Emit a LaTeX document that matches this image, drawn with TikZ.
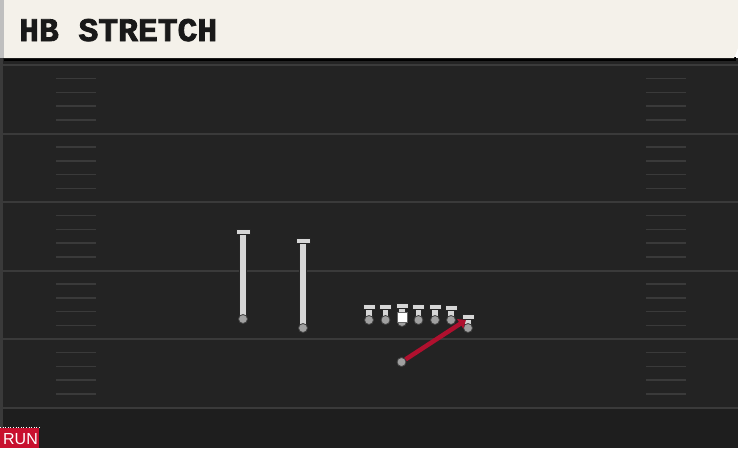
\documentclass[tikz,border=0pt]{standalone}
\usepackage{fontspec}
\newfontfamily\titlefont[BoldFeatures={FakeBold=2.5}]{Liberation Mono}
\newfontfamily\tagfont{Liberation Sans}
\usetikzlibrary{arrows.meta}
\definecolor{fieldgray}{HTML}{232323}
\definecolor{endgray}{HTML}{1E1E1E}
\definecolor{yardgray}{HTML}{3A3A3A}
\definecolor{cream}{HTML}{F4F1EA}
\definecolor{stemgray}{HTML}{D6D6D6}
\definecolor{dotgray}{HTML}{A0A0A0}
\definecolor{routered}{HTML}{B0102E}
\definecolor{tagred}{HTML}{C8102E}

\begin{document}
\begin{tikzpicture}[x=1pt,y=-1pt,
    yard/.style={draw=yardgray, line width=2pt},
    hash/.style={draw=yardgray, line width=1.5pt},
    stemout/.style={draw=black!85, line width=7.5pt},
    stemin/.style={draw=stemgray, line width=5.8pt},
    bar/.style={draw=black!85, fill=stemgray, line width=1pt, minimum width=14pt,
                minimum height=5pt, inner sep=0pt},
    dot/.style={circle, draw=black!75, fill=dotgray, line width=0.8pt,
                minimum size=9pt, inner sep=0pt},
    ball/.style={draw=black!60, fill=white, minimum size=9.5pt, inner sep=0pt},
    route/.style={draw=routered, line width=4.5pt, -{Triangle[length=7pt,width=11pt]}}]

        \useasboundingbox (0,0) rectangle (738,448);

        %field
        \fill[fieldgray] (0,58) rectangle (738,448);
        \fill[endgray] (0,408) rectangle (738,448);
        \fill[yardgray] (0,58) rectangle (3,448);
        \foreach \y in {65,133.5,202,270.5,339,407.5}{
            \draw[yard] (3,\y) -- (738,\y);
        }
        \foreach \y in {65,133.5,202,270.5,339}{
            \foreach \k in {1,2,3,4}{
                \draw[hash] (56,\y+13.7*\k) -- (96,\y+13.7*\k);
                \draw[hash] (646,\y+13.7*\k) -- (686,\y+13.7*\k);
            }
        }

        %header
        \fill[black] (4,57) rectangle (736,61);
        \fill[cream] (4,0) -- (738,0) -- (738,48) -- (734,58) -- (4,58) -- cycle;
        \fill[black!25] (0,0) rectangle (4,58);
        \node[anchor=base west, inner sep=0pt, font=\titlefont\bfseries\fontsize{33}{33}\selectfont,
              text=black!90] (title) at (19,41) {HB STRETCH};

        %receivers
        \foreach \x/\top/\bot/\name in {243/232/319/wra, 303/241/328/wrb}{
            \draw[stemout] (\x,\top) -- (\x,\bot);
            \draw[stemin] (\x,\top) -- (\x,\bot);
            \node[bar] at (\x,\top) {};
            \node[dot] (\name) at (\x,\bot) {};
        }

        %line
        \foreach \x/\top/\bot/\name in {369/307/320/lt, 385.5/307/320/lg, 402/306/322/c,
                                        418.5/307/320/rg, 435/307/320/rt, 451/308/320/te,
                                        468/317/328/slot}{
            \draw[stemout] (\x,\top) -- (\x,\bot);
            \draw[stemin] (\x,\top) -- (\x,\bot);
            \node[bar, minimum width=12pt] at (\x,\top) {};
            \node[dot] (\name) at (\x,\bot) {};
        }
        \node[ball] (snap) at (402,317) {};

        %run
        \node[dot] (hb) at (401.5,362) {};
        \coordinate (hbend) at (466,320);
        \draw[route] (hb) -- (hbend);

        %tag
        \draw[white, dotted, line width=0.6pt] (0,427.5) -- (40,427.5);
        \fill[tagred] (0,428) rectangle (39,448);
        \node[anchor=base, inner sep=0pt, font=\tagfont\fontsize{16}{16}\selectfont,
              text=white] (tag) at (20.5,444) {RUN};

    \end{tikzpicture}
\end{document}
